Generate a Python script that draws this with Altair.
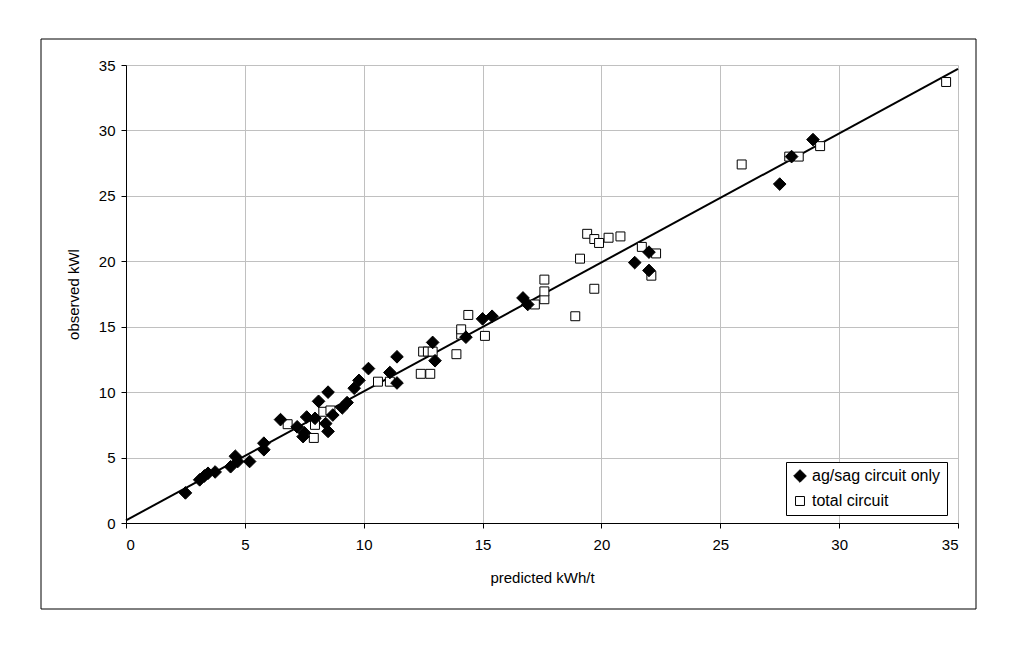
import altair as alt
import pandas as pd

# ag/sag circuit only (filled diamonds)
ag_x = [2.5, 3.1, 3.3, 3.45, 3.75, 4.4, 4.6, 4.7, 5.2, 5.8, 5.8, 6.5, 7.2, 7.45, 7.5,
        7.6, 7.95, 8.1, 8.4, 8.5, 8.5, 8.7, 9.1, 9.3, 9.6, 9.8, 10.2, 11.1, 11.4, 11.4,
        12.9, 13.0, 14.3, 15.0, 15.4, 16.7, 16.9, 21.4, 22.0, 22.0, 27.5, 28.0, 28.9]
ag_y = [2.3, 3.3, 3.6, 3.8, 3.9, 4.3, 5.1, 4.7, 4.7, 6.1, 5.6, 7.9, 7.35, 6.6, 6.9,
        8.1, 8.0, 9.3, 7.6, 7.0, 10.0, 8.25, 8.8, 9.2, 10.3, 10.9, 11.8, 11.5, 10.7, 12.7,
        13.8, 12.4, 14.2, 15.6, 15.8, 17.2, 16.7, 19.9, 20.7, 19.3, 25.9, 28.0, 29.3]

# total circuit (open squares)
tot_x = [6.8, 7.9, 7.95, 8.3, 8.6, 10.6, 11.1, 12.4, 12.8, 12.5, 12.7, 12.9, 13.9, 14.1,
         14.1, 14.4, 15.1, 17.2, 17.6, 17.6, 17.6, 18.9, 19.1, 19.4, 19.7, 19.9, 20.3,
         20.8, 19.7, 21.7, 22.3, 22.1, 25.9, 27.9, 28.3, 29.2, 34.5]
tot_y = [7.55, 6.5, 7.5, 8.5, 8.6, 10.8, 10.8, 11.4, 11.4, 13.1, 13.1, 13.1, 12.9, 14.4,
         14.8, 15.9, 14.3, 16.7, 17.1, 17.7, 18.6, 15.8, 20.2, 22.1, 21.7, 21.4, 21.8,
         21.9, 17.9, 21.1, 20.6, 18.9, 27.4, 28.0, 28.0, 28.8, 33.7]

# fitted line
line_x = [0, 35]
line_y = [0.2, 34.7]

ticks = [0, 5, 10, 15, 20, 25, 30, 35]
series_names = ["ag/sag circuit only", "total circuit"]

pts = pd.concat([
    pd.DataFrame({"x": tot_x, "y": tot_y, "series": series_names[1]}),
    pd.DataFrame({"x": ag_x, "y": ag_y, "series": series_names[0]}),
], ignore_index=True)
line_df = pd.DataFrame({"x": line_x, "y": line_y})
frame_df = pd.DataFrame({"k": [0]})

FONT = "Liberation Sans"

xs = alt.Scale(domain=[0, 35], nice=False, zero=False)
ys = alt.Scale(domain=[0, 35], nice=False, zero=False)

xaxis = alt.Axis(values=ticks, title="predicted kWh/t", grid=True, gridColor="#c0c0c0",
                 domainColor="black", tickColor="black", tickSize=5, labelPadding=9,
                 labelFontSize=15, titleFontSize=15, titleFontWeight="normal",
                 titlePadding=18, labelColor="black", titleColor="black",
                 labelFont=FONT, titleFont=FONT)
yaxis = alt.Axis(values=ticks, title="observed kWl", grid=True, gridColor="#c0c0c0",
                 domainColor="black", tickColor="black", tickSize=5, labelPadding=6,
                 labelFontSize=15, titleFontSize=15, titleFontWeight="normal",
                 titlePadding=17, labelColor="black", titleColor="black",
                 labelFont=FONT, titleFont=FONT)

legend = alt.Legend(title=None, orient="none", legendX=660, legendY=397,
                    strokeColor="black", fillColor="white", padding=6,
                    rowPadding=8, labelFontSize=16, labelFont=FONT,
                    labelColor="black", symbolStrokeColor="black",
                    symbolStrokeWidth=1, labelOffset=4, cornerRadius=0)

frame = alt.Chart(frame_df).mark_rect(fill="white", fillOpacity=0, stroke="black",
                                       strokeWidth=1, clip=False).encode(
    x=alt.value(-85), x2=alt.value(850), y=alt.value(-26), y2=alt.value(544)
)

line = alt.Chart(line_df).mark_line(color="black", strokeWidth=2).encode(
    x=alt.X("x:Q", scale=xs, axis=xaxis),
    y=alt.Y("y:Q", scale=ys, axis=yaxis),
)

points = alt.Chart(pts).mark_point(filled=False, strokeWidth=1, opacity=1).encode(
    x=alt.X("x:Q", scale=xs),
    y=alt.Y("y:Q", scale=ys),
    shape=alt.Shape("series:N", scale=alt.Scale(domain=series_names, range=["diamond", "square"]),
                    legend=legend),
    fill=alt.Fill("series:N", scale=alt.Scale(domain=series_names, range=["black", "white"]),
                  legend=legend),
    stroke=alt.Stroke("series:N", scale=alt.Scale(domain=series_names, range=["black", "black"]),
                      legend=legend),
    size=alt.Size("series:N", scale=alt.Scale(domain=series_names, range=[160, 80]),
                  legend=legend),
)

chart = alt.layer(frame, line, points).properties(
    width=832, height=458,
    padding={"left": 126, "top": 65, "right": 56, "bottom": 122},
    autosize=alt.AutoSizeParams(type="none"),
    background="white",
).configure_view(stroke=None)

chart.save("out.html", embed_options={"renderer": "svg", "actions": False})
